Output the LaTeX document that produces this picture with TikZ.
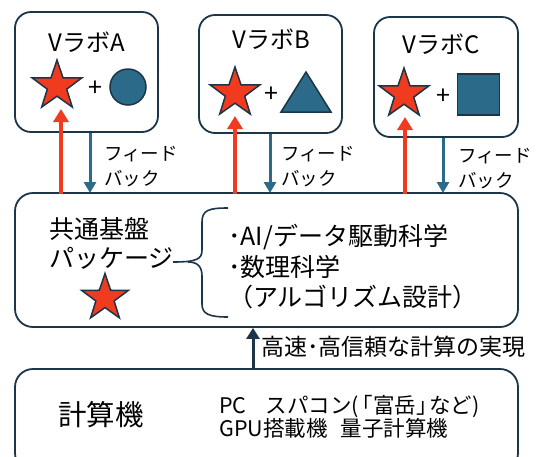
\documentclass[tikz,border=0pt]{standalone}
\usepackage{fontspec}
\setmainfont{Noto Sans CJK JP}
\usetikzlibrary{shapes.geometric,arrows.meta}
\definecolor{dk}{HTML}{1C3548}
\definecolor{rd}{HTML}{F03B1E}
\definecolor{bl}{HTML}{2C6A8A}
\tikzset{
  vbox/.style={draw=dk,line width=1.8pt,rounded corners=16pt,inner sep=0pt},
  bigbox/.style={draw=dk,line width=1.8pt,rounded corners=18pt,inner sep=0pt},
  redstar/.style={star,star points=5,star point ratio=2.55,fill=rd,draw=dk,line width=1.5pt,inner sep=0pt},
  blshape/.style={fill=bl,draw=dk,line width=1.5pt,inner sep=0pt},
  redarr/.style={draw=rd,line width=4.5pt,-{Triangle[width=15pt,length=13pt]}},
  blarr/.style={draw=bl,line width=3pt,-{Triangle[width=12pt,length=11pt]}},
  dkarr/.style={draw=dk,line width=3pt,-{Triangle[width=13pt,length=11pt]}},
  lab/.style={inner sep=0pt,font=\fontsize{24}{28}\selectfont},
  plus/.style={inner sep=0pt,font=\fontsize{25}{28}\selectfont},
  fb/.style={inner sep=0pt,anchor=west,align=left,font=\fontsize{18.5}{25}\selectfont},
}
\begin{document}
\begin{tikzpicture}[x=1pt,y=-1pt]
\clip (0,0) rectangle (538,456);
% Vlab boxes
\node[vbox,minimum width=143pt,minimum height=120pt] (boxA) at (86.5,72) {};
\node[vbox,minimum width=143pt,minimum height=118pt] (boxB) at (270.5,74) {};
\node[vbox,minimum width=144pt,minimum height=120pt] (boxC) at (446,77) {};
\node[lab] (labA) at (87,42) {VラボA};
\node[lab] (labB) at (271,39) {VラボB};
\node[lab] (labC) at (441,44) {VラボC};
% shapes
\node[redstar,minimum size=52pt] (starA) at (57,86) {};
\node[plus] (plusA) at (95,89) {+};
\node[blshape,circle,minimum size=36pt] (circA) at (128,87) {};
\node[redstar,minimum size=52pt] (starB) at (235,93) {};
\node[plus] (plusB) at (271,95) {+};
\draw[blshape] (281,112) -- (306,72) -- (331,112) -- cycle;
\node[redstar,minimum size=52pt] (starC) at (404,94) {};
\node[plus] (plusC) at (443,97) {+};
\node[blshape,rectangle,minimum width=42pt,minimum height=41pt] (sqC) at (478.5,94.5) {};
% middle box
\node[bigbox,minimum width=503pt,minimum height=134pt] (mid) at (266.5,260) {};
\node[inner sep=0pt,anchor=west,align=left,font=\fontsize{25}{29}\selectfont] (kiban) at (49,243) {共通基盤\\パッケージ};
\node[redstar,minimum size=49pt] (starM) at (105,298) {};
\draw[dk,line width=1.6pt] (228,208) .. controls (209,208) and (202,210) .. (202,222) -- (202,250) .. controls (202,259) and (197,262) .. (173,262);
\draw[dk,line width=1.6pt] (188,262) .. controls (197,262) and (202,266) .. (202,276) -- (202,304) .. controls (202,314) and (209,317) .. (228,317);
\node[inner sep=0pt,anchor=west,align=left,font=\fontsize{25}{30.5}\selectfont] (items) at (228,267) {･AI/データ駆動科学\\･数理科学\\（アルゴリズム設計）};
% bottom box
\node[bigbox,minimum width=503pt,minimum height=102pt] (comp) at (266.5,420) {};
\node[inner sep=0pt,font=\fontsize{28.5}{30}\selectfont] (keisan) at (101,415) {計算機};
\node[inner sep=0pt,anchor=west,align=left,font=\fontsize{21.5}{21.5}\selectfont] (pcs) at (219,417) {PC\hspace{0.9em}スパコン(\hspace{-0.35em}「富岳」\hspace{-0.4em}など)\\GPU搭載機\hspace{0.6em}量子計算機};
% arrows
\coordinate (rA) at (61,194);
\coordinate (rB) at (235,194);
\coordinate (rC) at (405,194);
\coordinate (tA) at (61,109);
\coordinate (tB) at (235,116);
\coordinate (tC) at (405,117);
\draw[redarr] (rA) -- (tA);
\draw[redarr] (rB) -- (tB);
\draw[redarr] (rC) -- (tC);
\draw[blarr] (boxA.south -| 90,0) -- (90,193);
\draw[blarr] (boxB.south -| 270,0) -- (270,193);
\draw[blarr] (boxC.south -| 443,0) -- (443,193);
\node[fb] (fbA) at (104,167) {フィード\\バック};
\node[fb] (fbB) at (281,167) {フィード\\バック};
\node[fb] (fbC) at (458,169) {フィード\\バック};
\draw[dkarr] (comp.north -| 253,0) -- (mid.south -| 253,0);
\node[inner sep=0pt,anchor=west,font=\fontsize{23}{25}\selectfont] (fast) at (261,347) {高速･高信頼な計算の実現};
\end{tikzpicture}
\end{document}
